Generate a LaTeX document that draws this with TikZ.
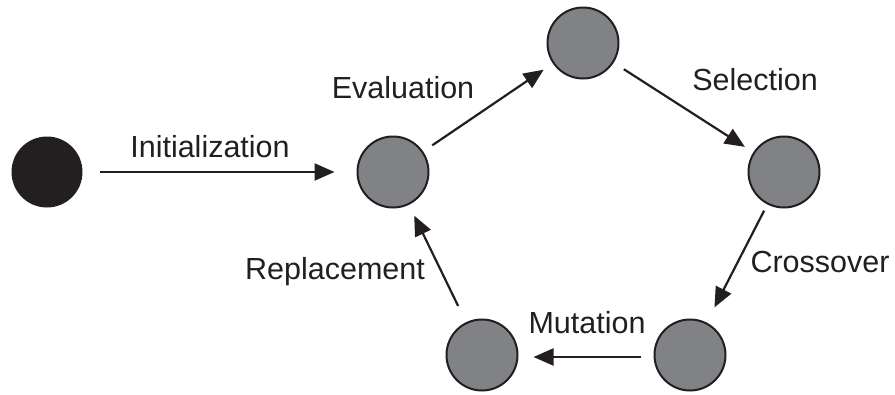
\documentclass[tikz,border=0pt]{standalone}
\usepackage{fontspec}
\setmainfont{Liberation Sans}
\usetikzlibrary{arrows.meta}
\definecolor{ink}{HTML}{231F20}
\definecolor{disk}{HTML}{808285}
\begin{document}
\begin{tikzpicture}[x=1pt,y=-1pt,
  state/.style={circle,draw=ink,line width=2pt,fill=disk,minimum size=71pt,inner sep=0pt},
  start/.style={circle,fill=ink,minimum size=71pt,inner sep=0pt},
  lbl/.style={text=ink,font=\fontsize{30.5}{32}\selectfont,inner sep=0pt,anchor=center},
  conn/.style={draw=ink,line width=2.2pt,-{Triangle[length=20pt,width=17pt]}}]
\useasboundingbox (0,0) rectangle (895,394);
\node[start] (S) at (47,172) {};
\node[state] (A) at (393,172) {};
\node[state] (B) at (583,43) {};
\node[state] (C) at (784,172) {};
\node[state] (D) at (690,355) {};
\node[state] (E) at (482,355) {};
\draw[conn,shorten <=17pt,shorten >=22pt] (S) -- (A);
\draw[conn,shorten <=11pt,shorten >=11pt] (A) -- (B);
\draw[conn,shorten <=12pt,shorten >=10pt] (B) -- (C);
\draw[conn,shorten <=7pt,shorten >=17pt] (C) -- (D);
\draw[conn,shorten <=13pt,shorten >=15pt] ([yshift=-2pt]D.west) -- ([yshift=-2pt]E.east);
\draw[conn,shorten <=18pt,shorten >=12pt] (E) -- (A);
\node[lbl] (l1) at (210,147) {Initialization};
\node[lbl] (l2) at (403,88) {Evaluation};
\node[lbl] (l3) at (755,80) {Selection};
\node[lbl] (l4) at (820,262) {Crossover};
\node[lbl] (l5) at (587,323) {Mutation};
\node[lbl] (l6) at (335,272) {Replacement};
\end{tikzpicture}
\end{document}
